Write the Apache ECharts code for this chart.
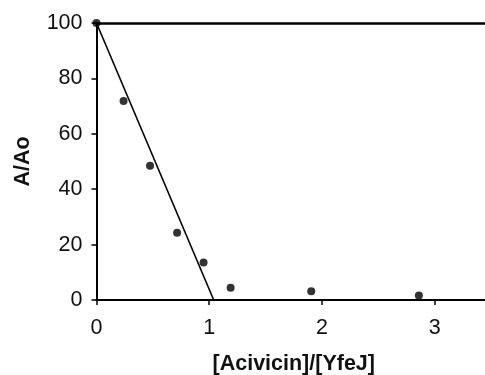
<!DOCTYPE html>
<html>
<head>
<meta charset="utf-8">
<script src="https://cdn.jsdelivr.net/npm/echarts@6/dist/echarts.min.js"></script>
<style>
  html, body { margin: 0; padding: 0; background: #fff; }
  #chart { width: 485px; height: 375px; }
</style>
</head>
<body>
<div id="chart"></div>
<script>
// Measured activity remaining versus inhibitor/enzyme ratio
const ratio = [0, 0.24, 0.475, 0.715, 0.95, 1.19, 1.905, 2.86];
const activity = [100, 71.8, 48.5, 24.3, 13.5, 4.4, 3.2, 1.6];

// Linear titration fit: starts at 100 and reaches zero near a 1:1 ratio
const fitX = [0, 1.04];
const fitY = [100, 0];

const yTicks = [0, 20, 40, 60, 80, 100];
const xTicks = [0, 1, 2, 3];

const font = 'Liberation Sans, Arial, sans-serif';

const chart = echarts.init(document.getElementById('chart'), null, { renderer: 'canvas' });

chart.setOption({
  animation: false,
  backgroundColor: '#fff',
  grid: { left: 96.5, top: 23, right: -6, bottom: 75, containLabel: false, outerBoundsMode: 'none' },
  xAxis: [
    {
      type: 'value',
      min: 0,
      max: 3.5,
      interval: 1,
      name: '[Acivicin]/[YfeJ]',
      nameLocation: 'middle',
      nameGap: 53,
      nameTextStyle: { fontFamily: font, fontSize: 21.5, fontWeight: 'bold', color: '#111' },
      axisLine: { lineStyle: { color: '#000', width: 2 } },
      axisTick: { show: true, inside: false, length: 5, customValues: xTicks, lineStyle: { color: '#000', width: 1.5 } },
      axisLabel: {
        fontFamily: font, fontSize: 21.5, color: '#111', margin: 17,
        customValues: xTicks,
        formatter: v => String(v)
      },
      splitLine: { show: false }
    },
    {
      type: 'value',
      position: 'top',
      min: 0,
      max: 3.5,
      axisLine: { show: true, lineStyle: { color: '#000', width: 2.5 } },
      axisTick: { show: false },
      axisLabel: { show: false },
      splitLine: { show: false }
    }
  ],
  yAxis: {
    type: 'value',
    min: 0,
    max: 100,
    interval: 20,
    name: 'A/Ao',
    nameLocation: 'middle',
    nameGap: 62,
    nameTextStyle: { fontFamily: font, fontSize: 21.5, fontWeight: 'bold', color: '#111' },
    axisLine: { show: true, lineStyle: { color: '#000', width: 2 } },
    axisTick: { show: true, inside: false, length: 5, customValues: yTicks, lineStyle: { color: '#000', width: 1.5 } },
    axisLabel: {
      fontFamily: font, fontSize: 21.5, color: '#111', margin: 14,
      customValues: yTicks,
      formatter: v => String(v)
    },
    splitLine: { show: false }
  },
  series: [
    {
      type: 'line',
      data: fitX.map((x, i) => [x, fitY[i]]),
      showSymbol: false,
      lineStyle: { color: '#000', width: 1.6 },
      z: 2
    },
    {
      type: 'scatter',
      data: ratio.map((x, i) => [x, activity[i]]),
      symbol: 'circle',
      symbolSize: 8,
      itemStyle: { color: '#000' },
      z: 3
    }
  ]
});
</script>
</body>
</html>
